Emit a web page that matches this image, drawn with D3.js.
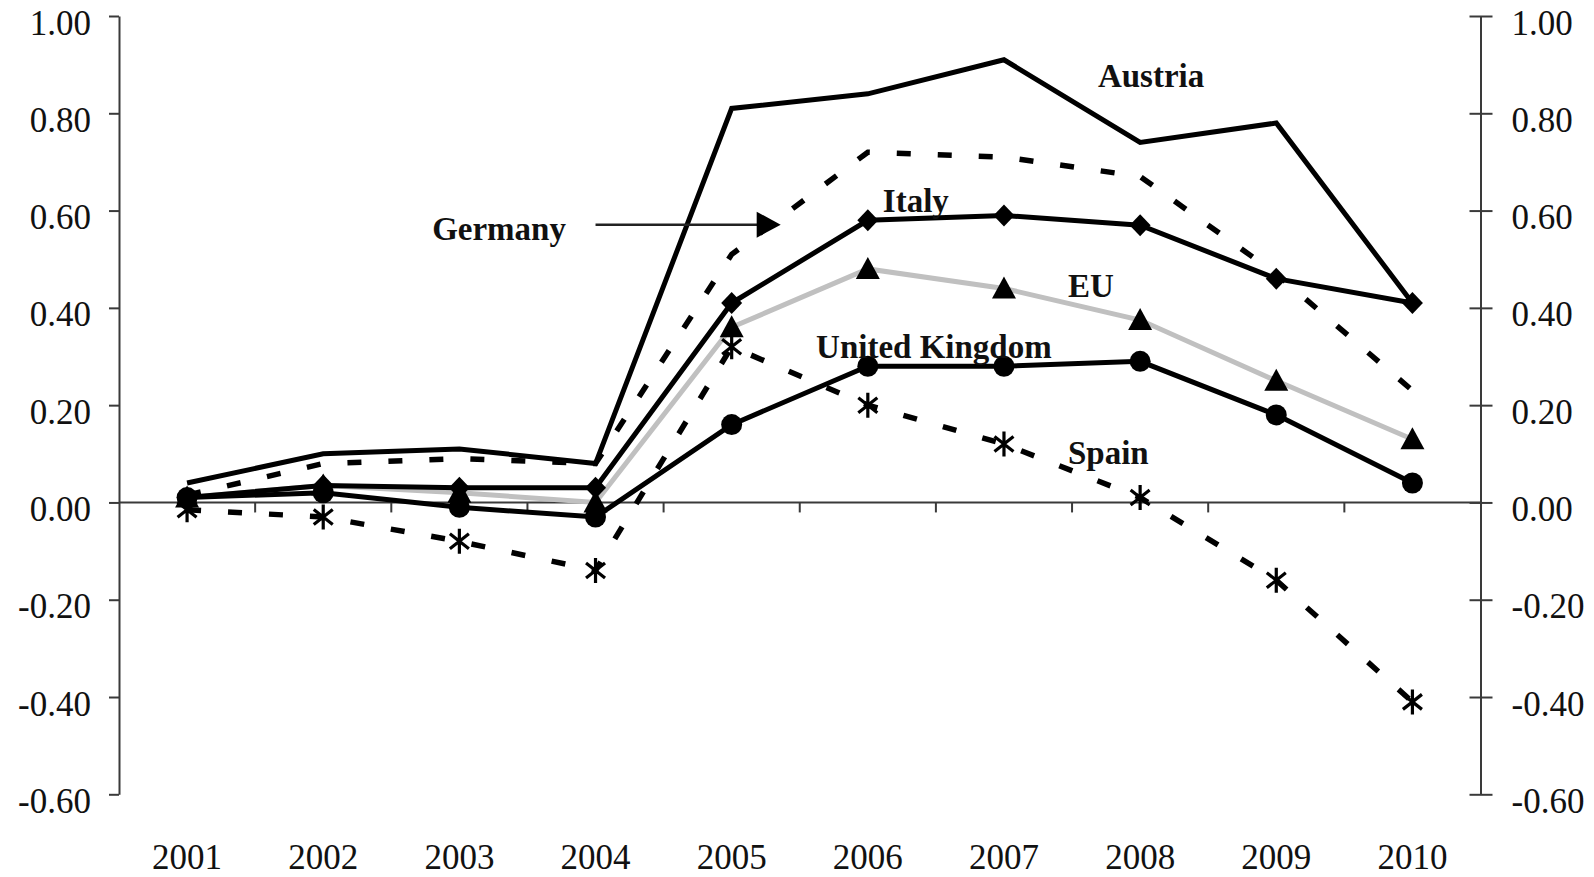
<!DOCTYPE html>
<html>
<head>
<meta charset="utf-8">
<script src="https://cdn.jsdelivr.net/npm/d3@7"></script>
<style>
  html, body { margin: 0; padding: 0; background: #fff; }
  svg { display: block; }
  text { font-family: "Liberation Serif", "Times New Roman", serif; }
</style>
</head>
<body>
<svg id="chart" width="1594" height="877"></svg>
<script>
// ---------- data ----------
const years = [2001, 2002, 2003, 2004, 2005, 2006, 2007, 2008, 2009, 2010];
const austria = [0.04, 0.10, 0.11, 0.08, 0.81, 0.84, 0.91, 0.74, 0.78, 0.41];
const germany = [0.015, 0.08, 0.09, 0.08, 0.51, 0.72, 0.71, 0.67, 0.47, 0.23];
const italy   = [0.01, 0.035, 0.03, 0.03, 0.41, 0.58, 0.59, 0.57, 0.46, 0.41];
const eu      = [0.01, 0.035, 0.02, 0.0, 0.36, 0.48, 0.44, 0.375, 0.25, 0.13];
const uk      = [0.01, 0.02, -0.01, -0.03, 0.16, 0.28, 0.28, 0.29, 0.18, 0.04];
const spain   = [-0.015, -0.03, -0.08, -0.14, 0.32, 0.20, 0.12, 0.01, -0.16, -0.41];
const yTickValues = [-0.6, -0.4, -0.2, 0, 0.2, 0.4, 0.6, 0.8, 1.0];
const yTickLabels = ["-0.60", "-0.40", "-0.20", "0.00", "0.20", "0.40", "0.60", "0.80", "1.00"];
const yearLabels = ["2001", "2002", "2003", "2004", "2005", "2006", "2007", "2008", "2009", "2010"];

// series labels in data coordinates (year position, value)
const seriesLabels = [
  { text: "Austria", year: 2007.69, value: 0.854 },
  { text: "Italy", year: 2006.11, value: 0.597 },
  { text: "EU", year: 2007.47, value: 0.422 },
  { text: "United Kingdom", year: 2005.62, value: 0.296 },
  { text: "Spain", year: 2007.47, value: 0.079 },
  { text: "Germany", year: 2002.8, value: 0.54 }
];
const germanyArrow = { fromYear: 2004.0, toYear: 2005.36, value: 0.571 };

// ---------- scales ----------
const svg = d3.select("#chart");
const x = d3.scaleBand().domain(years).range([119, 1480.5]).padding(0);
const bw = x.bandwidth();
const cx = d => x(d) + bw / 2;
const xLin = d3.scaleLinear().domain([2001, 2010]).range([cx(2001), cx(2010)]);
const y = d3.scaleLinear().domain([-0.6, 1.0]).range([794.3, 16]);

const axisColor = "#3a3a3a";

// ---------- left axis ----------
const gL = svg.append("g").attr("transform", "translate(119,0)")
  .call(d3.axisLeft(y).tickValues(yTickValues).tickSizeInner(10).tickSizeOuter(0).tickPadding(18)
    .tickFormat((d, i) => yTickLabels[i]));
gL.select(".domain").attr("stroke", axisColor).attr("stroke-width", 2);
gL.selectAll(".tick line").attr("stroke", axisColor).attr("stroke-width", 2);
gL.selectAll(".tick text").attr("dy", 18).attr("fill", "#111")
  .style("font-size", "35px").style("font-family", "'Liberation Serif', 'Times New Roman', serif");

// ---------- right axis ----------
const gR = svg.append("g").attr("transform", "translate(1480.5,0)")
  .call(d3.axisRight(y).tickValues(yTickValues).tickSizeInner(12).tickSizeOuter(0).tickPadding(19)
    .tickFormat((d, i) => yTickLabels[i]));
gR.select(".domain").attr("stroke", axisColor).attr("stroke-width", 2);
gR.selectAll(".tick line").attr("stroke", axisColor).attr("stroke-width", 2).attr("x1", -11);
gR.selectAll(".tick text").attr("dy", 18).attr("fill", "#111")
  .style("font-size", "35px").style("font-family", "'Liberation Serif', 'Times New Roman', serif");

// ---------- x axis at zero ----------
const gX = svg.append("g");
gX.append("line").attr("x1", 119).attr("x2", 1480.5).attr("y1", y(0)).attr("y2", y(0))
  .attr("stroke", axisColor).attr("stroke-width", 2);
gX.selectAll("line.xt").data(years.slice(1)).join("line").attr("class", "xt")
  .attr("x1", d => x(d)).attr("x2", d => x(d)).attr("y1", y(0)).attr("y2", y(0) + 10)
  .attr("stroke", axisColor).attr("stroke-width", 2);
svg.append("g").selectAll("text").data(years).join("text")
  .attr("x", d => cx(d)).attr("y", 868.5).attr("text-anchor", "middle")
  .attr("fill", "#111").style("font-size", "35px")
  .text((d, i) => yearLabels[i]);

// ---------- lines ----------
const line = d3.line().x((d, i) => cx(years[i])).y(d => y(d));
const series = [
  { key: "EU", vals: eu, color: "#c0c0c0", width: 5, dash: null, marker: "triangle" },
  { key: "Germany", vals: germany, color: "#000", width: 5.5, dash: "14,27", marker: null },
  { key: "Spain", vals: spain, color: "#000", width: 5.5, dash: "14,27", marker: "star" },
  { key: "UK", vals: uk, color: "#000", width: 5, dash: null, marker: "circle" },
  { key: "Italy", vals: italy, color: "#000", width: 5, dash: null, marker: "diamond" },
  { key: "Austria", vals: austria, color: "#000", width: 5, dash: null, marker: null }
];

const markerPaths = {
  triangle: "M0,-12L12,10L-12,10Z",
  diamond: "M0,-11L10.5,0L0,11L-10.5,0Z",
  star: "M0,-12.5L0,12.5M-9.5,-7.5L9.5,7.5M-9.5,7.5L9.5,-7.5"
};

series.forEach(s => {
  const g = svg.append("g");
  g.append("path").datum(s.vals).attr("d", line)
    .attr("fill", "none").attr("stroke", s.color).attr("stroke-width", s.width)
    .attr("stroke-linejoin", "miter")
    .attr("stroke-dasharray", s.dash);
  if (s.marker === "circle") {
    g.selectAll("circle").data(s.vals).join("circle")
      .attr("cx", (d, i) => cx(years[i])).attr("cy", d => y(d)).attr("r", 10.5).attr("fill", "#000");
  } else if (s.marker === "star") {
    g.selectAll("path.m").data(s.vals).join("path").attr("class", "m")
      .attr("transform", (d, i) => `translate(${cx(years[i])},${y(d)})`)
      .attr("d", markerPaths.star).attr("fill", "none").attr("stroke", "#000").attr("stroke-width", 3.2);
  } else if (s.marker) {
    g.selectAll("path.m").data(s.vals).join("path").attr("class", "m")
      .attr("transform", (d, i) => `translate(${cx(years[i])},${y(d)})`)
      .attr("d", markerPaths[s.marker]).attr("fill", "#000");
  }
});

// ---------- Germany annotation arrow ----------
const ay = y(germanyArrow.value);
const ax0 = xLin(germanyArrow.fromYear), ax1 = xLin(germanyArrow.toYear);
svg.append("line").attr("x1", ax0).attr("x2", ax1 - 22).attr("y1", ay).attr("y2", ay)
  .attr("stroke", "#222").attr("stroke-width", 2.5);
svg.append("path")
  .attr("d", `M${ax1},${ay}L${ax1 - 24},${ay - 13}L${ax1 - 24},${ay + 13}Z`)
  .attr("fill", "#000");

// ---------- series labels ----------
svg.append("g").selectAll("text").data(seriesLabels).join("text")
  .attr("x", d => xLin(d.year)).attr("y", d => y(d.value))
  .attr("fill", "#111").style("font-size", "33px").style("font-weight", "bold")
  .text(d => d.text);
</script>
</body>
</html>
